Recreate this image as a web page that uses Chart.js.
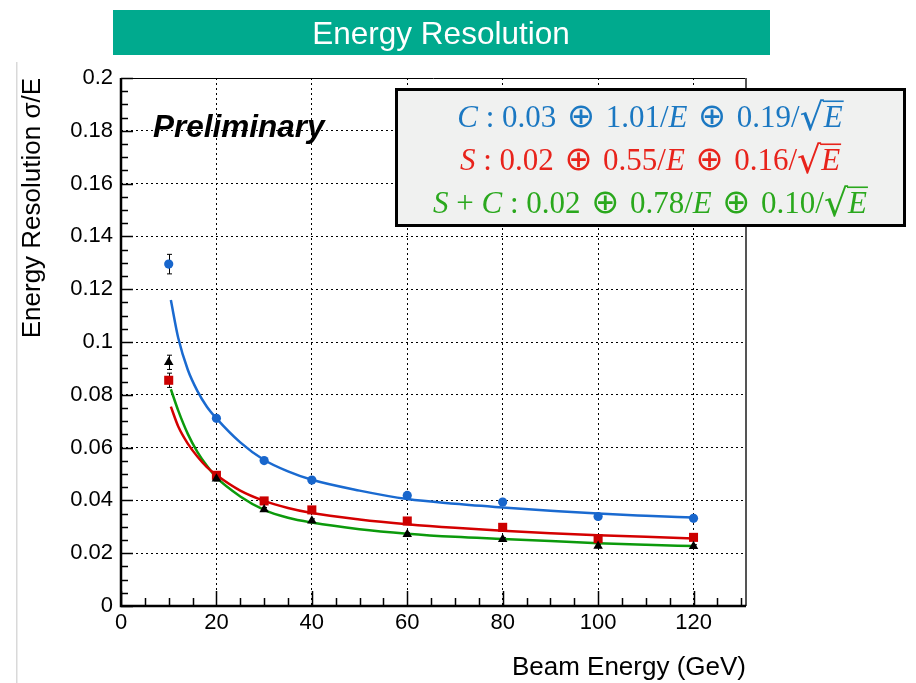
<!DOCTYPE html>
<html>
<head>
<meta charset="utf-8">
<title>Energy Resolution</title>
<script src="https://cdn.jsdelivr.net/npm/chart.js@4.4.1/dist/chart.umd.min.js"></script>
<style>
  html, body { margin: 0; padding: 0; background: #fff; }
  #wrap { width: 916px; height: 683px; }
</style>
</head>
<body>
<div id="wrap"><canvas id="resCanvas" width="916" height="683"></canvas></div>
<script>
// measured points (beam energy in GeV, sigma/E)
const beamEnergy = [10, 20, 30, 40, 60, 80, 100, 120];
const resC  = [0.1295, 0.0711, 0.0551, 0.0477, 0.0419, 0.0394, 0.0339, 0.0332];
const errC  = [0.0037, 0.0008, 0.0008, 0.0007, 0.0007, 0.0007, 0.0007, 0.0007];
const resS  = [0.0855, 0.0495, 0.0398, 0.0364, 0.0322, 0.0298, 0.0255, 0.0260];
const errS  = [0.0027, 0.0008, 0.0007, 0.0007, 0.0006, 0.0006, 0.0006, 0.0006];
const resSC = [0.0923, 0.0482, 0.0366, 0.0323, 0.0272, 0.0253, 0.0227, 0.0226];
const errSC = [0.0027, 0.0008, 0.0007, 0.0007, 0.0006, 0.0006, 0.0006, 0.0006];

// fitted resolution curves
const fitEnergy = [10.45, 12, 14, 16, 18, 20, 25, 30, 35, 40, 50, 60, 70, 80, 90, 100, 110, 120];
const fitC  = [0.1159, 0.1015, 0.0895, 0.0815, 0.0755, 0.0711, 0.0620, 0.0553, 0.0510, 0.0478, 0.0437, 0.0405, 0.0387, 0.0373, 0.0361, 0.0350, 0.0342, 0.0335];
const fitS  = [0.0755, 0.0680, 0.0615, 0.0566, 0.0526, 0.0496, 0.0437, 0.0398, 0.0371, 0.0352, 0.0328, 0.0310, 0.0296, 0.0285, 0.0276, 0.0268, 0.0262, 0.0256];
const fitSC = [0.0821, 0.0740, 0.0652, 0.0584, 0.0531, 0.0487, 0.0415, 0.0364, 0.0334, 0.0316, 0.0291, 0.0274, 0.0262, 0.0254, 0.0246, 0.0238, 0.0232, 0.0227];

// fit parameters: constant, noise (/E), stochastic (/sqrt E)
const fitNames  = ['C', 'S', 'S+C'];
const fitConst  = ['0.03', '0.02', '0.02'];
const fitNoise  = ['1.01', '0.55', '0.78'];
const fitStoch  = ['0.19', '0.16', '0.10'];
const fitColors = ['#1b78c2', '#e8231b', '#2aa81d'];

// axes
const xTicks = [0, 20, 40, 60, 80, 100, 120];
const yTicks = [0, 0.02, 0.04, 0.06, 0.08, 0.1, 0.12, 0.14, 0.16, 0.18, 0.2];
const xMax = 131;
const xMinorStep = 5;
const yMinorStep = 0.005;

const toXY = (xs, ys) => xs.map((x, i) => ({x: x, y: ys[i]}));

const sansFont = '"Liberation Sans", Arial, Helvetica, sans-serif';
const serifFont = '"Liberation Serif", "Times New Roman", serif';

// vertical error bars for the measured points
const errorBars = {
  id: 'errorBars',
  beforeDatasetsDraw(chart) {
    const {ctx, scales: {x, y}} = chart;
    ctx.save();
    ctx.strokeStyle = '#000';
    ctx.lineWidth = 1;
    chart.data.datasets.forEach(ds => {
      if (!ds.errors) return;
      ds.data.forEach((p, i) => {
        const px = Math.round(x.getPixelForValue(p.x)) + 0.5;
        const y1 = y.getPixelForValue(p.y + ds.errors[i]);
        const y2 = y.getPixelForValue(p.y - ds.errors[i]);
        ctx.beginPath();
        ctx.moveTo(px, y1); ctx.lineTo(px, y2);
        ctx.moveTo(px - 2.5, y1); ctx.lineTo(px + 2.5, y1);
        ctx.moveTo(px - 2.5, y2); ctx.lineTo(px + 2.5, y2);
        ctx.stroke();
      });
    });
    ctx.restore();
  }
};

function formulaParts(k) {
  const parts = [];
  fitNames[k].split('+').forEach((n, j) => {
    if (j > 0) parts.push({t: ' + '});
    parts.push({t: n, it: true});
  });
  parts.push({t: ' : ' + fitConst[k]});
  parts.push({t: ' \u2295 ', op: true});
  parts.push({t: fitNoise[k] + '/'});
  parts.push({t: 'E', it: true});
  parts.push({t: ' \u2295 ', op: true});
  parts.push({t: fitStoch[k] + '/'});
  parts.push({t: '\u221A', root: true});
  parts.push({t: 'E', it: true, over: true});
  return parts;
}

const rootScale = 1.22;

function partFont(p, size) {
  if (p.op) return `${size * 1.08}px "DejaVu Sans", sans-serif`;
  if (p.root) return `${size * rootScale}px "DejaVu Serif", ${serifFont}`;
  return `${p.it ? 'italic ' : ''}${size}px ${serifFont}`;
}

function drawFormula(ctx, parts, cx, base, color, size) {
  let total = 0;
  parts.forEach(p => {
    ctx.font = partFont(p, size);
    p.w = ctx.measureText(p.t).width;
    total += p.w;
  });
  let xPos = cx - total / 2;
  ctx.fillStyle = color;
  ctx.strokeStyle = color;
  ctx.textAlign = 'left';
  ctx.textBaseline = 'alphabetic';
  parts.forEach(p => {
    ctx.font = partFont(p, size);
    ctx.fillText(p.t, xPos, base + (p.root ? 3 : 0));
    if (p.over) {
      const oy = base + 3 - size * rootScale * 0.76;
      ctx.lineWidth = 1.6;
      ctx.beginPath();
      ctx.moveTo(xPos - 1, oy);
      ctx.lineTo(xPos + p.w + 1, oy);
      ctx.stroke();
    }
    xPos += p.w;
  });
}

// frame, inward ticks, banner, label and fit box
const decorations = {
  id: 'decorations',
  afterDraw(chart) {
    const {ctx, chartArea: a, scales: {x, y}} = chart;
    ctx.save();

    // thin page edge
    ctx.fillStyle = '#d9d9d9';
    ctx.fillRect(16, 62, 1.5, 621);

    // ticks
    ctx.strokeStyle = '#000';
    ctx.lineWidth = 1.5;
    ctx.beginPath();
    const nY = Math.round((y.max - y.min) / yMinorStep);
    for (let k = 0; k <= nY; k++) {
      const py = Math.round(y.getPixelForValue(y.min + k * yMinorStep)) + 0.5;
      const len = k % 4 === 0 ? 12 : 7;
      ctx.moveTo(a.left, py); ctx.lineTo(a.left + len, py);
    }
    const nX = Math.floor(x.max / xMinorStep);
    for (let k = 0; k <= nX; k++) {
      const px = Math.round(x.getPixelForValue(k * xMinorStep)) + 0.5;
      const len = k % 4 === 0 ? 15 : 8;
      ctx.moveTo(px, a.bottom); ctx.lineTo(px, a.bottom - len);
    }
    ctx.stroke();

    // frame
    ctx.lineWidth = 1;
    ctx.strokeStyle = '#000';
    ctx.beginPath();
    ctx.moveTo(a.left, a.top + 0.5); ctx.lineTo(a.right, a.top + 0.5);
    ctx.stroke();
    ctx.lineWidth = 2;
    ctx.strokeStyle = '#555';
    ctx.beginPath();
    ctx.moveTo(a.right, a.top); ctx.lineTo(a.right, a.bottom);
    ctx.stroke();
    ctx.lineWidth = 2.5;
    ctx.strokeStyle = '#000';
    ctx.beginPath();
    ctx.moveTo(a.left, a.top); ctx.lineTo(a.left, a.bottom); ctx.lineTo(a.right, a.bottom);
    ctx.stroke();

    // title banner
    ctx.fillStyle = '#00aa8e';
    ctx.fillRect(113, 10, 657, 45);
    ctx.fillStyle = '#fff';
    ctx.font = `31.5px ${sansFont}`;
    ctx.textAlign = 'center';
    ctx.textBaseline = 'alphabetic';
    ctx.fillText('Energy Resolution', 441, 44);

    // preliminary tag
    ctx.fillStyle = '#000';
    ctx.font = `italic bold 31.5px ${sansFont}`;
    ctx.textAlign = 'left';
    ctx.fillText('Preliminary', 153, 137);

    // fit results box
    ctx.fillStyle = '#f0f1f0';
    ctx.fillRect(395, 88, 511, 139);
    ctx.lineWidth = 3;
    ctx.strokeStyle = '#000';
    ctx.strokeRect(396.5, 89.5, 508, 136);
    const baselines = [127, 170, 213];
    fitNames.forEach((n, k) => {
      drawFormula(ctx, formulaParts(k), 650, baselines[k], fitColors[k], 31);
    });

    ctx.restore();
  }
};

const ctx = document.getElementById('resCanvas').getContext('2d');

new Chart(ctx, {
  type: 'scatter',
  data: {
    datasets: [
      {
        label: 'C',
        data: toXY(beamEnergy, resC),
        errors: errC,
        pointStyle: 'circle',
        pointRadius: 4.6,
        backgroundColor: '#1866cc',
        borderColor: '#1866cc',
        borderWidth: 0,
        order: 0
      },
      {
        label: 'S+C',
        data: toXY(beamEnergy, resSC),
        errors: errSC,
        pointStyle: 'triangle',
        pointRadius: 5.5,
        backgroundColor: '#000',
        borderColor: '#000',
        borderWidth: 0,
        order: 0
      },
      {
        label: 'S',
        data: toXY(beamEnergy, resS),
        errors: errS,
        pointStyle: 'rect',
        pointRadius: 6.4,
        backgroundColor: '#cc0000',
        borderColor: '#cc0000',
        borderWidth: 0,
        order: 0
      },
      {
        label: 'C fit',
        data: toXY(fitEnergy, fitC),
        showLine: true,
        pointRadius: 0,
        borderColor: '#1a6ad0',
        borderWidth: 2.5,
        cubicInterpolationMode: 'monotone',
        order: 1
      },
      {
        label: 'S fit',
        data: toXY(fitEnergy, fitS),
        showLine: true,
        pointRadius: 0,
        borderColor: '#d40000',
        borderWidth: 2.5,
        cubicInterpolationMode: 'monotone',
        order: 1
      },
      {
        label: 'S+C fit',
        data: toXY(fitEnergy, fitSC),
        showLine: true,
        pointRadius: 0,
        borderColor: '#0c9a0c',
        borderWidth: 2.5,
        cubicInterpolationMode: 'monotone',
        order: 1
      }
    ]
  },
  options: {
    responsive: false,
    animation: false,
    layout: { padding: { left: 0, top: 78, right: 170, bottom: 0 } },
    plugins: {
      legend: { display: false },
      tooltip: { enabled: false }
    },
    scales: {
      x: {
        type: 'linear',
        min: 0,
        max: xMax,
        afterBuildTicks: s => { s.ticks = xTicks.map(v => ({value: v})); },
        afterFit: s => { s.height = 77; },
        grid: { color: '#000', lineWidth: 1, drawTicks: false },
        border: { display: false, dash: [2, 3] },
        ticks: {
          color: '#000',
          padding: 4,
          maxRotation: 0,
          font: { family: sansFont, size: 22 },
          callback: v => String(v)
        },
        title: {
          display: true,
          text: 'Beam Energy (GeV)',
          align: 'end',
          color: '#000',
          font: { family: sansFont, size: 26 },
          padding: 0
        }
      },
      y: {
        type: 'linear',
        min: 0,
        max: 0.2,
        afterBuildTicks: s => { s.ticks = yTicks.map(v => ({value: v})); },
        afterFit: s => { s.width = 121; },
        grid: { color: '#000', lineWidth: 1, drawTicks: false },
        border: { display: false, dash: [2, 3] },
        ticks: {
          color: '#000',
          padding: 8,
          font: { family: sansFont, size: 22 },
          callback: v => String(v)
        },
        title: {
          display: true,
          text: 'Energy Resolution \u03C3/E',
          align: 'end',
          color: '#000',
          font: { family: sansFont, size: 26 },
          padding: { top: 17, bottom: 0 }
        }
      }
    }
  },
  plugins: [errorBars, decorations]
});
</script>
</body>
</html>
